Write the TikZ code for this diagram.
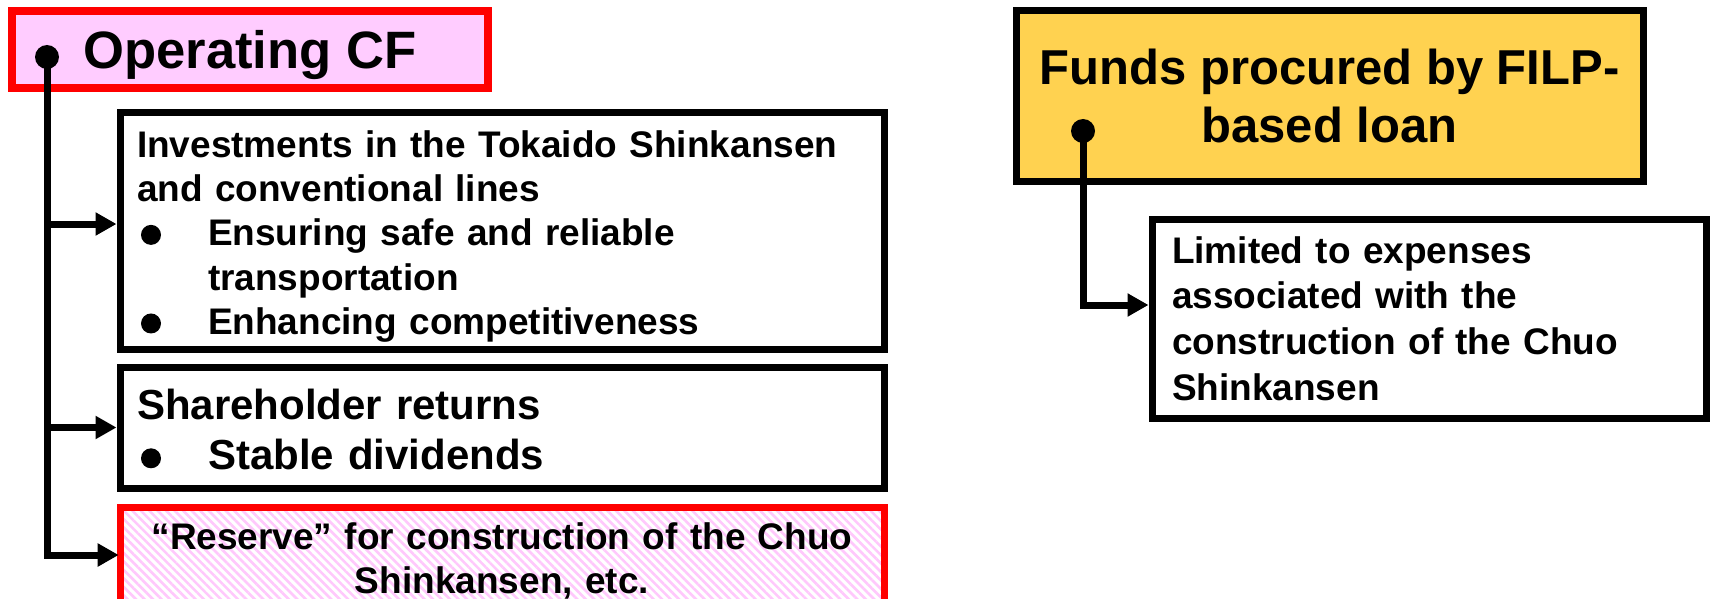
\documentclass[tikz,border=0pt]{standalone}
\usepackage{fontspec}
\setmainfont{Liberation Sans}
\usetikzlibrary{arrows.meta,patterns.meta}

\definecolor{cfpink}{RGB}{255,204,255}
\definecolor{hatchpink}{RGB}{255,200,252}
\definecolor{fundgold}{RGB}{255,210,80}
\newcommand{\bulletdot}{\makebox[35.5pt][l]{\hspace{2pt}\tikz[baseline={(0pt,-5.5pt)}]\fill (0pt,0pt) circle (5pt);}}
\newcommand{\bulletgap}{\hspace*{35.5pt}}

\begin{document}
\begin{tikzpicture}[x=0.5pt,y=-0.5pt,
    box/.style={draw,line width=3.5pt,inner sep=0pt},
    conn/.style={line width=3.5pt},
    tip/.style={-{Triangle[length=10.5pt,width=11pt]}},
    blob/.style={circle,fill,inner sep=0pt,minimum size=12pt},
    small/.style={font=\bfseries\fontsize{18.5pt}{22.15pt}\selectfont}]
    \clip (0,0) rectangle (1713,599);
    \fill[white] (0,0) rectangle (1713,599);
    % operating cash flow and where it goes
    \node[box,draw=red,line width=4pt,fill=cfpink,minimum width=238pt,minimum height=38.5pt,
        text depth=0pt,font=\bfseries\fontsize{26.3pt}{30pt}\selectfont] at (250,49.5) (OPCF) {Operating CF};
    \node[box,small,align=left,text width=365pt,minimum width=382pt,minimum height=118pt] at (502,231) (INV)
        {\rule{0pt}{18.8pt}Investments in the Tokaido Shinkansen\\
         and conventional lines\\
         \bulletdot Ensuring safe and reliable\\
         \bulletgap transportation\\
         \bulletdot Enhancing competitiveness};
    \node[box,align=left,text width=365pt,minimum width=382pt,minimum height=60.5pt,
        font=\bfseries\fontsize{21pt}{25pt}\selectfont] at (502,427.5) (SHR)
        {\rule{0pt}{17pt}Shareholder returns\\
         \bulletdot Stable dividends};
    \node[box,small,draw=red,align=center,text width=365pt,minimum width=382pt,minimum height=54pt,
        pattern={Lines[angle=-45,distance=3pt,line width=1.3pt]},pattern color=hatchpink] at (502,561) (RSV)
        {“Reserve” for construction of the Chuo\\Shinkansen, etc.};
    \node[blob] at (47,57) (DOPCF) {};
    \coordinate (AINV) at ([yshift=3.5pt]INV.west);
    \coordinate (ARSV) at ([yshift=3pt]RSV.west);
    \draw[conn,tip] (DOPCF.center) |- (ARSV);
    \draw[conn,tip] (AINV -| DOPCF) -- (AINV);
    \draw[conn,tip] (SHR.west -| DOPCF) -- (SHR.west);
    % FILP-based loan
    \node[box,fill=fundgold,align=center,minimum width=313.5pt,minimum height=85pt,
        font=\bfseries\fontsize{24.5pt}{29pt}\selectfont] at (1329.5,96) (FND)
        {Funds procured by FILP-\\based loan};
    \node[box,small,align=left,text width=257pt,minimum width=277pt,minimum height=99.5pt,
        font=\bfseries\fontsize{18.5pt}{22.85pt}\selectfont] at (1429,318.5) (LIM)
        {Limited to expenses\\
         associated with the\\
         construction of the Chuo\\
         Shinkansen};
    \node[blob] at (1083,131) (DFND) {};
    \coordinate (ALIM) at ([yshift=6.75pt]LIM.west);
    \draw[conn,tip] (DFND.center) |- (ALIM);
\end{tikzpicture}
\end{document}
